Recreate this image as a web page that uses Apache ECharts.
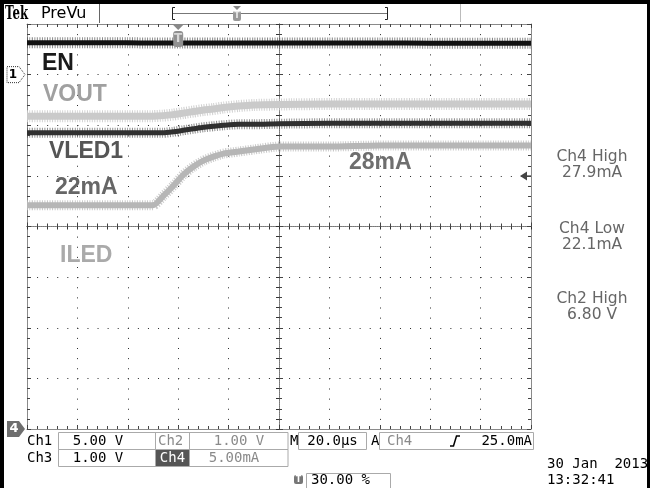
<!DOCTYPE html>
<html>
<head>
<meta charset="utf-8">
<title>Tek PreVu</title>
<script src="https://cdn.jsdelivr.net/npm/echarts@6/dist/echarts.min.js"></script>
<style>
  html, body { margin: 0; padding: 0; background: #fff; }
  #main { width: 650px; height: 488px; }
</style>
</head>
<body>
<div id="main"></div>
<script>
// sample times in µs (20 µs/div, trigger at 30 % of record)
const timeUs    = [-60, -40, -20, -10, -6, -2, 2, 6, 10, 14, 18, 24, 30, 40, 60, 80, 100, 120, 140]
// Ch1 EN (V)
const enVolts   = [3.15, 3.14, 3.14, 3.13, 3.13, 3.13, 3.13, 3.13, 3.13, 3.12, 3.12, 3.12, 3.12, 3.12, 3.12, 3.12, 3.11, 3.11, 3.11]
// Ch2 VOUT (V)
const voutVolts = [6.57, 6.57, 6.57, 6.57, 6.58, 6.60, 6.63, 6.66, 6.69, 6.71, 6.74, 6.77, 6.79, 6.80, 6.81, 6.81, 6.81, 6.81, 6.81]
// Ch3 VLED1 (V)
const vledVolts = [6.24, 6.24, 6.24, 6.24, 6.24, 6.26, 6.29, 6.32, 6.35, 6.37, 6.39, 6.41, 6.41, 6.42, 6.43, 6.43, 6.43, 6.43, 6.43]
// Ch4 ILED (mA)
const iledMa    = [22.1, 22.1, 22.1, 22.1, 23.0, 24.0, 25.1, 25.9, 26.5, 26.9, 27.2, 27.4, 27.6, 27.9, 27.9, 28.0, 28.0, 28.0, 28.0]

// scope settings: units per division and ground position (divisions from centre)
const chScale  = [5, 1, 1, 5]
const chGround = [3, -4.39, -4.39, -4]
const trigLevelMa = 25

const chart = echarts.init(document.getElementById('main'))

const GRAT = '#2a2a2a'

function gratX(pos, extra) {
  return Object.assign({
    type: 'value', min: -5, max: 5, interval: 1, position: pos,
    axisLine: { onZero: false, lineStyle: { color: '#8a8a8a' } },
    axisTick: { inside: true, length: 4, lineStyle: { color: '#444' } },
    minorTick: { show: true, splitNumber: 5, length: 3, lineStyle: { color: '#444' } },
    axisLabel: { show: false },
    splitLine: { show: false }
  }, extra)
}
function gratY(pos, extra) {
  return Object.assign({
    type: 'value', min: -4, max: 4, interval: 1, position: pos,
    axisLine: { onZero: false, lineStyle: { color: '#8a8a8a' } },
    axisTick: { inside: true, length: 4, lineStyle: { color: '#444' } },
    minorTick: { show: true, splitNumber: 5, length: 3, lineStyle: { color: '#444' } },
    axisLabel: { show: false },
    splitLine: { show: false }
  }, extra)
}
const centreLine = { onZero: true, onZeroAxisIndex: 0, lineStyle: { color: '#777', type: [1, 1] } }
const tickOut = { inside: false, length: 3, lineStyle: { color: '#333' } }
const minorOut = { show: true, splitNumber: 5, length: 3, lineStyle: { color: '#333' } }

function chAxis(i) {
  return { type: 'value', show: false, min: (-4 - chGround[i]) * chScale[i], max: (4 - chGround[i]) * chScale[i] }
}

// a noisy trace: hatched wide band under a solid core
function trace(values, yIdx, halo, core, haloW, coreW) {
  const data = timeUs.map((t, i) => [t, values[i]])
  const base = { type: 'line', xAxisIndex: 4, yAxisIndex: yIdx, data: data, showSymbol: false, smooth: 0.2, silent: true }
  return [
    Object.assign({}, base, { lineStyle: { color: halo, width: haloW, type: [1, 1.5], cap: 'butt' }, z: 2 }),
    Object.assign({}, base, { lineStyle: { color: core, width: coreW }, z: 3 })
  ]
}

chart.setOption({
  animation: false,
  backgroundColor: '#fff',
  grid: { left: 27, top: 24, width: 504, height: 405, containLabel: false },
  xAxis: [
    gratX('bottom', { splitLine: { show: true, lineStyle: { color: GRAT, type: [1, 9.125] } } }),
    gratX('top'),
    gratX('bottom', { axisLine: centreLine }),
    gratX('bottom', { axisLine: centreLine, axisTick: tickOut, minorTick: minorOut }),
    { type: 'value', min: -60, max: 140, interval: 20, show: false }
  ],
  yAxis: [
    gratY('left', { splitLine: { show: true, lineStyle: { color: GRAT, type: [1, 9.08] } } }),
    gratY('right'),
    gratY('left', { axisLine: centreLine }),
    gratY('left', { axisLine: centreLine, axisTick: tickOut, minorTick: minorOut }),
    chAxis(0), chAxis(1), chAxis(2), chAxis(3)
  ],
  series: [].concat(
    trace(enVolts, 4, 'rgba(60,60,60,0.6)', '#121212', 11, 5),
    trace(voutVolts, 5, 'rgba(205,205,205,0.9)', '#cacaca', 12, 7),
    trace(vledVolts, 6, 'rgba(70,70,70,0.6)', '#303030', 10, 5),
    trace(iledMa, 7, 'rgba(190,190,190,0.85)', '#b6b6b6', 10, 6)
  )
})

// positions taken from the axes
const ch1Y = chart.convertToPixel({ yAxisIndex: 4 }, 0)
const ch4Y = chart.convertToPixel({ yAxisIndex: 7 }, 0)
const trigY = chart.convertToPixel({ yAxisIndex: 7 }, trigLevelMa)
const trigX = chart.convertToPixel({ xAxisIndex: 4 }, 0)

const BIG = 'bold 23px "Liberation Sans", Arial, sans-serif'
const SANS = '"DejaVu Sans", sans-serif'
const MONO = '14px "DejaVu Sans Mono", monospace'

function txt(text, x, y, font, fill, align) {
  return { type: 'text', x: x, y: y, z: 10, silent: true,
    style: { text: text, font: font, fill: fill, align: align || 'left', verticalAlign: 'middle' } }
}
function rect(x, y, w, h, style, r) {
  return { type: 'rect', z: 9, silent: true, shape: { x: x, y: y, width: w, height: h, r: r || 0 }, style: style }
}
function line(x1, y1, x2, y2, stroke, w) {
  return { type: 'line', z: 9, silent: true, shape: { x1: x1, y1: y1, x2: x2, y2: y2 }, style: { stroke: stroke, lineWidth: w || 1 } }
}
function poly(points, style, closed) {
  return { type: closed ? 'polygon' : 'polyline', z: 9, silent: true, shape: { points: points }, style: style }
}

const boxStroke = { fill: 'none', stroke: '#aaa', lineWidth: 1 }

const graphic = [
  // status bar
  Object.assign(txt('Tek', 5, 14.5, 'bold 19px "DejaVu Serif", serif', '#000'), { scaleX: 0.62 }),
  txt('PreVu', 41, 13.5, '16px ' + SANS, '#000'),
  line(99.5, 4, 99.5, 23, '#666'),
  line(173, 13.5, 387, 13.5, '#777'),
  poly([[175, 7.5], [172.5, 7.5], [172.5, 19.5], [175, 19.5]], { fill: 'none', stroke: '#222', lineWidth: 1 }),
  poly([[385, 7.5], [387.5, 7.5], [387.5, 19.5], [385, 19.5]], { fill: 'none', stroke: '#222', lineWidth: 1 }),
  poly([[233, 6], [241, 6], [237, 10]], { fill: '#888' }, true),
  rect(233, 11, 8, 10, { fill: '#999' }, 2),
  txt('T', 237, 16, 'bold 8px ' + SANS, '#eee', 'center'),
  line(460.5, 4, 460.5, 22, '#bbb'),

  // trigger position marker
  poly([[trigX - 6, 24], [trigX + 6, 24], [trigX, 30]], { fill: '#888' }, true),
  rect(trigX - 5, 31, 10, 16, { fill: '#909090' }, 3),
  txt('T', trigX, 39, 'bold 12px ' + SANS, '#d8d8d8', 'center'),

  // channel ground markers
  poly([[7, ch1Y - 8], [19, ch1Y - 8], [25, ch1Y], [19, ch1Y + 8], [7, ch1Y + 8]], { fill: '#fff', stroke: '#333', lineWidth: 1, lineDash: [1, 1] }, true),
  txt('1', 13, ch1Y, 'bold 12px ' + SANS, '#000', 'center'),
  poly([[7, ch4Y - 8], [19, ch4Y - 8], [25, ch4Y], [19, ch4Y + 8], [7, ch4Y + 8]], { fill: '#6e6e6e' }, true),
  txt('4', 14, ch4Y, 'bold 13px ' + SANS, '#fff', 'center'),

  // trigger level
  poly([[520, trigY], [527, trigY - 4.5], [527, trigY + 4.5]], { fill: '#444' }, true),
  line(527, trigY, 531, trigY, '#444'),

  // waveform labels
  txt('EN', 42, 64, BIG, '#1a1a1a'),
  txt('VOUT', 43, 95, BIG, '#a0a0a0'),
  txt('VLED1', 49, 152, BIG, '#555'),
  txt('22mA', 55, 188, BIG, '#666'),
  txt('28mA', 349, 162.5, BIG, '#6e6e6e'),
  txt('ILED', 60, 255.5, BIG, '#aaa'),

  // measurements
  txt('Ch4 High', 592, 156.5, '15.5px ' + SANS, '#666', 'center'),
  txt('27.9mA', 592, 172.5, '15.5px ' + SANS, '#666', 'center'),
  txt('Ch4 Low', 592, 228.5, '15.5px ' + SANS, '#666', 'center'),
  txt('22.1mA', 592, 245, '15.5px ' + SANS, '#666', 'center'),
  txt('Ch2 High', 592, 299, '15.5px ' + SANS, '#666', 'center'),
  txt('6.80 V', 592, 315, '15.5px ' + SANS, '#666', 'center'),

  // bottom readouts
  rect(58.5, 432.5, 229.5, 17, boxStroke),
  rect(58.5, 449.5, 229.5, 17, boxStroke),
  line(155.5, 432.5, 155.5, 466.5, '#aaa'),
  line(189.5, 432.5, 189.5, 466.5, '#aaa'),
  rect(156, 450, 33, 16, { fill: '#555' }),
  txt('Ch1', 27, 441, MONO, '#000'),
  txt('5.00 V', 98, 441, MONO, '#000', 'center'),
  txt('Ch2', 158, 441, MONO, '#8a8a8a'),
  txt('1.00 V', 239, 441, MONO, '#8a8a8a', 'center'),
  txt('M', 290, 441, MONO, '#000'),
  rect(298.5, 432.5, 68, 17, boxStroke),
  txt('20.0µs', 332.5, 441, MONO, '#000', 'center'),
  txt('A', 371, 441, MONO, '#000'),
  rect(379.5, 432.5, 154, 17, boxStroke),
  txt('Ch4', 387, 441, MONO, '#8a8a8a'),
  poly([[450, 446], [453.5, 446], [456.5, 436], [460, 436]], { fill: 'none', stroke: '#000', lineWidth: 1.5 }),
  txt('25.0mA', 532, 441, MONO, '#000', 'right'),
  txt('Ch3', 27, 458, MONO, '#000'),
  txt('1.00 V', 98, 458, MONO, '#000', 'center'),
  txt('Ch4', 172.5, 458, MONO, '#fff', 'center'),
  txt('5.00mA', 234, 458, MONO, '#8a8a8a', 'center'),
  rect(294, 475, 9, 9, { fill: '#777' }, 2),
  txt('T', 298.5, 479.5, 'bold 8px ' + SANS, '#fff', 'center'),
  rect(306.5, 473.5, 84, 16, boxStroke),
  txt('30.00 %', 311, 480, MONO, '#000'),
  txt('30 Jan  2013', 547, 464, MONO, '#000'),
  txt('13:32:41', 547, 480, MONO, '#000'),

  // outer frame
  rect(0, 0, 650, 4, { fill: '#000' }),
  rect(0, 0, 4, 488, { fill: '#000' }),
  rect(647, 0, 3, 488, { fill: '#000' })
]

chart.setOption({ graphic: graphic })
</script>
</body>
</html>
